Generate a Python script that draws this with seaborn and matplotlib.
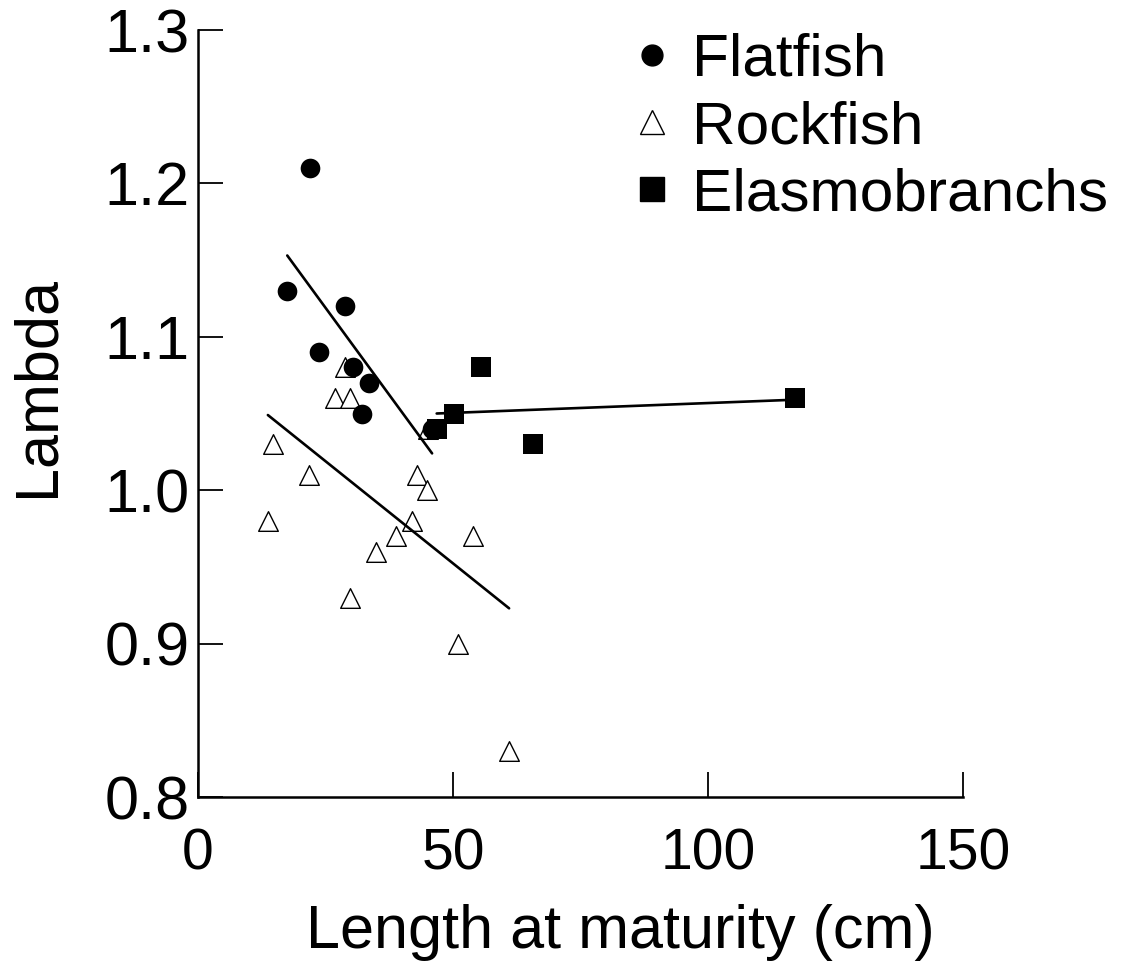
import numpy as np
import pandas as pd
import seaborn as sns
import matplotlib.pyplot as plt
from matplotlib.lines import Line2D

# Values
flat_len = [22.0, 17.5, 28.8, 23.7, 30.3, 33.5, 32.2, 45.8]
flat_lambda = [1.21, 1.13, 1.12, 1.09, 1.08, 1.07, 1.05, 1.04]

rock_len = [28.8, 26.9, 29.9, 45.0, 14.8, 21.8, 42.9, 44.9,
            13.8, 41.9, 38.9, 54.0, 34.9, 29.9, 50.9, 61.0]
rock_lambda = [1.08, 1.06, 1.06, 1.04, 1.03, 1.01, 1.01, 1.00,
               0.98, 0.98, 0.97, 0.97, 0.96, 0.93, 0.90, 0.83]

elasmo_len = [55.5, 50.2, 46.8, 65.6, 117.1]
elasmo_lambda = [1.08, 1.05, 1.04, 1.03, 1.06]

# fitted lines (end points)
flat_fit_x = [17.5, 45.9]
flat_fit_y = [1.153, 1.024]
rock_fit_x = [13.7, 61.0]
rock_fit_y = [1.049, 0.923]
elasmo_fit_x = [46.8, 117.1]
elasmo_fit_y = [1.050, 1.059]

x_ticks = [0, 50, 100, 150]
y_ticks = [0.8, 0.9, 1.0, 1.1, 1.2, 1.3]
group_names = ["Flatfish", "Rockfish", "Elasmobranchs"]

sns.set_theme(style="white")
plt.rcParams["font.family"] = ["Liberation Sans", "DejaVu Sans"]
plt.rcParams["text.color"] = "black"

fig = plt.figure(figsize=(11.21, 9.76), dpi=100)
ax = fig.add_axes([0.17663, 0.18340, 0.68243, 0.78586])

ms = 200
sns.scatterplot(x=rock_len, y=rock_lambda, marker="^", s=ms, color="white",
                edgecolor="black", linewidth=1.0, ax=ax, zorder=3)
sns.scatterplot(x=flat_len, y=flat_lambda, marker="o", s=ms, color="black",
                edgecolor="black", linewidth=0, ax=ax, zorder=4)
sns.scatterplot(x=elasmo_len, y=elasmo_lambda, marker="s", s=ms, color="black",
                edgecolor="black", linewidth=0, ax=ax, zorder=5)

for fx, fy in [(flat_fit_x, flat_fit_y), (rock_fit_x, rock_fit_y),
               (elasmo_fit_x, elasmo_fit_y)]:
    sns.lineplot(x=fx, y=fy, color="black", linewidth=1.9, ax=ax, zorder=6)

ax.set_xlim(0, 150)
ax.set_ylim(0.8, 1.3)
ax.set_xticks(x_ticks)
ax.set_xticklabels([str(t) for t in x_ticks])
ax.set_yticks(y_ticks)
ax.set_yticklabels([f"{t:.1f}" for t in y_ticks])

for side in ["top", "right"]:
    ax.spines[side].set_visible(False)
for side in ["left", "bottom"]:
    ax.spines[side].set_linewidth(1.8)
    ax.spines[side].set_color("black")

ax.tick_params(axis="both", direction="in", length=18, width=1.3, color="black",
               labelcolor="black", bottom=True, left=True)
ax.tick_params(axis="y", pad=6, labelsize=44)
ax.tick_params(axis="x", pad=22, labelsize=41)

ax.set_xlabel("Length at maturity (cm)", fontsize=44, color="black")
ax.set_ylabel("Lambda", fontsize=44, color="black")
ax.xaxis.set_label_coords(0.5516, -0.14)
ax.yaxis.set_label_coords(-0.172, 0.535)
ax.xaxis.label.set_va("top")

handles = [
    Line2D([], [], linestyle="none", marker="o", markersize=15,
           markerfacecolor="black", markeredgecolor="black"),
    Line2D([], [], linestyle="none", marker="^", markersize=17,
           markerfacecolor="white", markeredgecolor="black", markeredgewidth=1.0),
    Line2D([], [], linestyle="none", marker="s", markersize=17,
           markerfacecolor="black", markeredgecolor="black"),
]
leg = ax.legend(handles, group_names, loc="upper left",
                bbox_to_anchor=(634 / 1121, 1 - 33 / 976),
                bbox_transform=fig.transFigure, frameon=False, fontsize=43.5,
                handlelength=0.6, handletextpad=0.36, labelspacing=0.2,
                borderpad=0, borderaxespad=0, labelcolor="black")

fig.savefig("out.png", dpi=100, facecolor="white")
